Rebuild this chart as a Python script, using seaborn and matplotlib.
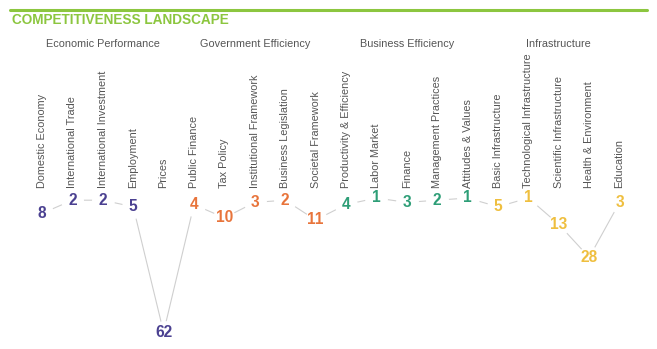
import matplotlib
matplotlib.use("Agg")
import matplotlib.pyplot as plt
import seaborn as sns
import pandas as pd
from matplotlib.lines import Line2D

categories = ["Domestic Economy", "International Trade", "International Investment", "Employment", "Prices",
              "Public Finance", "Tax Policy", "Institutional Framework", "Business Legislation", "Societal Framework",
              "Productivity & Efficiency", "Labor Market", "Finance", "Management Practices", "Attitudes & Values",
              "Basic Infrastructure", "Technological Infrastructure", "Scientific Infrastructure", "Health & Environment", "Education"]
ranks = [8, 2, 2, 5, 62,
         4, 10, 3, 2, 11,
         4, 1, 3, 2, 1,
         5, 1, 13, 28, 3]
groups = ["Economic Performance"] * 5 + ["Government Efficiency"] * 5 + ["Business Efficiency"] * 5 + ["Infrastructure"] * 5
group_names = ["Economic Performance", "Government Efficiency", "Business Efficiency", "Infrastructure"]
group_colors = ["#4b4191", "#e8743b", "#2e9e77", "#efbf3f"]

sns.set_theme(style="white")
plt.rcParams['font.family'] = ['Liberation Sans', 'DejaVu Sans']

df = pd.DataFrame({"pos": range(len(categories)), "rank": ranks, "group": groups, "category": categories})

fig = plt.figure(figsize=(6.57, 3.49), dpi=100)
ax = fig.add_axes([0, 0, 1, 1])

sns.lineplot(data=df, x="pos", y="rank", ax=ax, color="#cfcfcf", linewidth=0.8,
             marker="o", markersize=16.5, markerfacecolor="white", markeredgewidth=0, sort=False)

cmap = dict(zip(group_names, group_colors))
for _, r in df.iterrows():
    ax.text(r["pos"], r["rank"], str(r["rank"]), ha="center", va="center", fontsize=11.2,
            fontweight="bold", color=cmap[r["group"]])
    ax.text(r["pos"], -3.55, r["category"], rotation=90, ha="center", va="bottom",
            fontsize=7.8, color="#555555")

for gi, g in enumerate(group_names):
    ax.text(gi * 5 + 2, -69, g, ha="center", va="center", fontsize=7.8, color="#555555")

ax.set_xlim(-42 / 30.4, (657 - 42) / 30.4)
ax.set_ylim(1 + (349 - 198) / 2.2, 1 - 198 / 2.2)
ax.axis("off")

fig.add_artist(Line2D([10 / 657, 647 / 657], [1 - 10 / 349, 1 - 10 / 349], color="#8cc63f", lw=2.2))
fig.text(12 / 657, 1 - 20 / 349, "COMPETITIVENESS LANDSCAPE", ha="left", va="center",
         fontsize=9.8, fontweight="bold", color="#8cc63f")

fig.savefig("out.png", dpi=100)
